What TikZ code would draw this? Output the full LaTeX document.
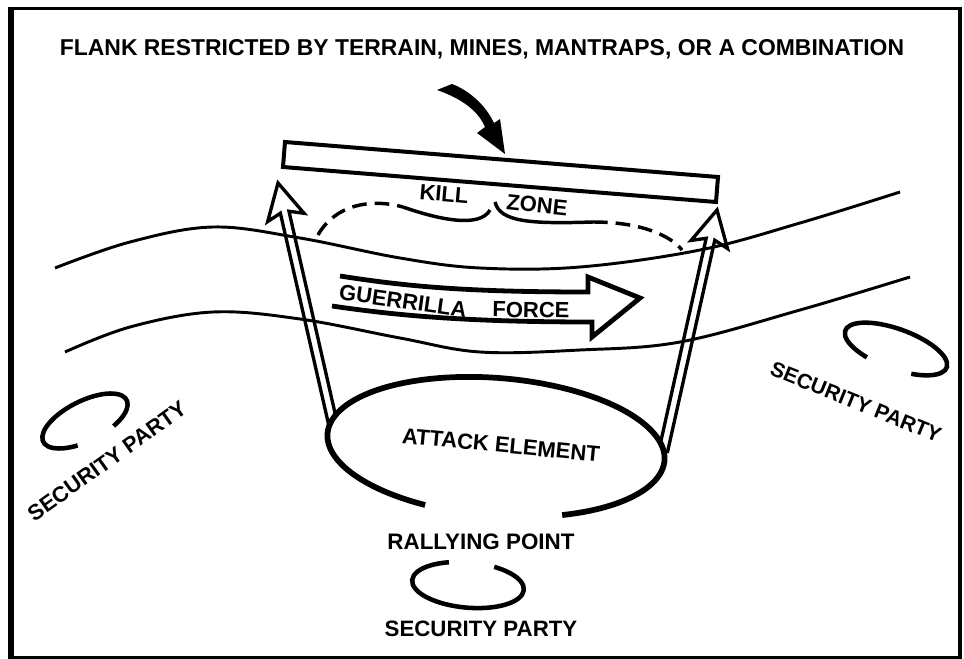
\documentclass[tikz,border=0pt]{standalone}
\usepackage{fontspec}
\setmainfont{Liberation Sans}
\usetikzlibrary{calc}
\begin{document}
\begin{tikzpicture}[x=0.75pt,y=-0.75pt,
  lbl/.style={font=\bfseries\fontsize{16.5}{18}\selectfont, inner sep=0pt},
  splbl/.style={font=\bfseries\fontsize{16.4}{18}\selectfont, inner sep=0pt},
  terrain/.style={line width=2.2pt},
  killline/.style={line width=2.6pt},
  hollow/.style={line width=2.5pt, line join=miter, miter limit=20},
  secarc/.style={line width=3.4pt}]
\useasboundingbox (0,0) rectangle (964,659);
% frame
\fill (8,7) rectangle (14,659);
\fill (8,7) rectangle (962,10.5);
\fill (957.5,7) rectangle (962,659);
\fill (8,655.5) rectangle (962,659);
% title
\node[lbl, font=\bfseries\fontsize{17.2}{19}\selectfont, text depth=0pt] (title) at (482,47) {FLANK RESTRICTED BY TERRAIN, MINES, MANTRAPS, OR A COMBINATION};
% terrain lines
\draw[terrain] plot[smooth, tension=0.6] coordinates {(55,268) (130,242) (213,227) (300,238) (400,258) (480,268) (580,267) (700,250) (800,223) (900,192)};
\draw[terrain] plot[smooth, tension=0.6] coordinates {(65,352) (130,327) (213,312) (300,319) (400,338) (480,352) (580,350) (680,342) (800,310) (910,277)};
% flank obstacle
\draw[line width=3pt, line join=miter] (285,142) -- (718,177) -- (716,202) -- (283,167) -- cycle;
% curved arrow
\fill (437,90) .. controls (460,98) and (478,110) .. (485,127) -- (477,133) -- (505,154) -- (500,119) -- (494,123) .. controls (485,104) and (468,90) .. (452,84) -- cycle;
% kill zone
\draw[killline, dash pattern=on 11pt off 6pt] (318,235) .. controls (335,205) and (370,198) .. (403,207);
\draw[killline] (403,207) .. controls (440,220) and (480,228) .. (490,210);
\draw[killline] (495,202) .. controls (500,222) and (530,224) .. (593,222);
\draw[killline, dash pattern=on 11pt off 6pt] (593,222) .. controls (640,222) and (670,235) .. (682,250);
\node[lbl, rotate=-5] (kill) at (444,194) {KILL};
\node[lbl, rotate=-6] (zone) at (537,205) {ZONE};
% guerrilla force arrow
\draw[line width=3.6pt, line join=miter] (340,276) .. controls (410,287) and (470,292) .. (588,292) -- (588,277) -- (640,298) -- (592,337) -- (592,322) .. controls (470,322) and (400,316) .. (332,306);
\node[lbl, rotate=-8] (guer) at (403,301) {GUERRILLA};
\node[lbl, rotate=-1] (force) at (531,310) {FORCE};
% hollow arrows
\coordinate (LB) at (333,424); \coordinate (LT) at (278,183);
\coordinate (LJ) at ($(LT)!22.5pt!(LB)$);
\coordinate (LH) at ($(LT)!26.5pt!(LB)$);
\draw[hollow] ($(LB)!3.3pt!90:(LT)$) -- ($(LJ)!3.3pt!90:(LT)$) -- ($(LH)!14pt!90:(LT)$) -- (LT) -- ($(LH)!14pt!-90:(LT)$) -- ($(LJ)!3.3pt!-90:(LT)$) -- ($(LB)!3.3pt!-90:(LT)$);
\coordinate (RB) at (663,452); \coordinate (RT) at (717,210);
\coordinate (RJ) at ($(RT)!22.5pt!(RB)$);
\coordinate (RH) at ($(RT)!26.5pt!(RB)$);
\draw[hollow] ($(RB)!3.3pt!90:(RT)$) -- ($(RJ)!3.3pt!90:(RT)$) -- ($(RH)!14pt!90:(RT)$) -- (RT) -- ($(RH)!14pt!-90:(RT)$) -- ($(RJ)!3.3pt!-90:(RT)$) -- ($(RB)!3.3pt!-90:(RT)$);
% attack element
\begin{scope}[shift={(496,447)}, rotate=-4.6]
\fill[white] (0:126.75pt and 51.75pt) arc[start angle=0, end angle=360, x radius=126.75pt, y radius=51.75pt];
\draw[line width=4.3pt] (-65:126.75pt and 51.75pt) arc[start angle=-65, end angle=247, x radius=126.75pt, y radius=51.75pt];
\end{scope}
\node[lbl, rotate=-5.5] (attack) at (501,445) {ATTACK ELEMENT};
% rallying point and bottom security party
\node[lbl, font=\bfseries\fontsize{16.8}{18}\selectfont] (rally) at (481,542) {RALLYING POINT};
\begin{scope}[shift={(468,585)}, rotate=-5]
\draw[secarc] (112:42pt and 17pt) arc[start angle=112, end angle=424, x radius=42pt, y radius=17pt];
\end{scope}
\node[splbl, font=\bfseries\fontsize{16.7}{18}\selectfont] (spb) at (481,629) {SECURITY PARTY};
% left security party
\begin{scope}[shift={(85,421)}, rotate=26.6]
\draw[secarc] (-60:35pt and 15pt) arc[start angle=-60, end angle=248, x radius=35pt, y radius=15pt];
\end{scope}
\node[splbl, rotate=35.5] (spl) at (107,461) {SECURITY PARTY};
% right security party
\begin{scope}[shift={(896,349)}, rotate=-20]
\draw[secarc] (-65:40.5pt and 15pt) arc[start angle=-65, end angle=243, x radius=40.5pt, y radius=15pt];
\end{scope}
\node[splbl, font=\bfseries\fontsize{15.8}{18}\selectfont, rotate=-22] (spr) at (856,402) {SECURITY PARTY};
\end{tikzpicture}
\end{document}
